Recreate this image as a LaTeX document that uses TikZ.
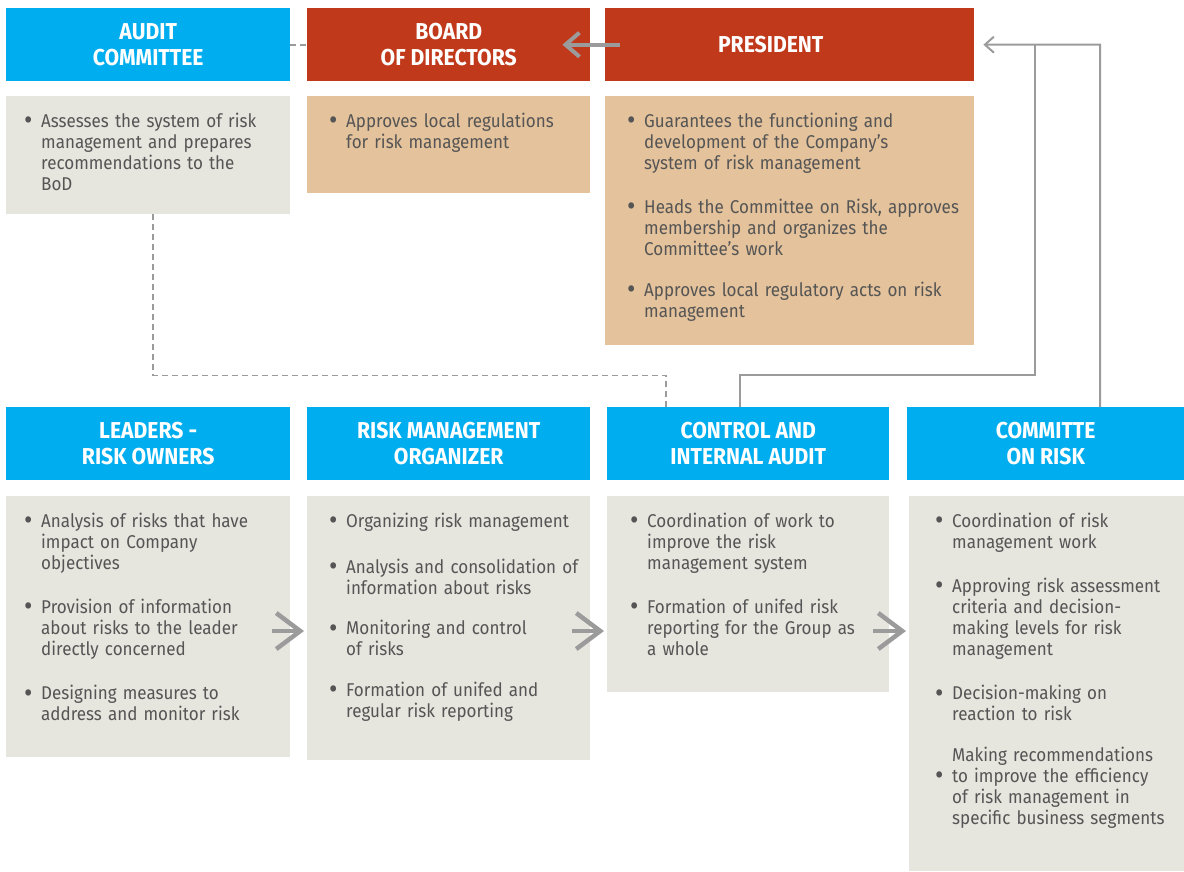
\documentclass[tikz,border=0pt]{standalone}
\usepackage{fontspec}
\setmainfont{Fira Sans}[FakeStretch=0.92]
\usetikzlibrary{arrows.meta,calc}
\definecolor{hblue}{HTML}{00AEEF}
\definecolor{hred}{HTML}{C1391B}
\definecolor{ctan}{HTML}{E4C29B}
\definecolor{cgray}{HTML}{E6E5DE}
\definecolor{ctext}{HTML}{555555}
\definecolor{cline}{HTML}{9B9B9B}
\newcommand\bdot{\raisebox{-2.5pt}{\fontsize{28}{21}\selectfont\textbullet}}
\newcommand\bitem[1]{\par\noindent\makebox[17pt][l]{\bdot}\parbox[t]{\dimexpr\linewidth-17pt\relax}{\raggedright #1}\par}
\newcommand\bitemmid[1]{\par\noindent\makebox[17pt][l]{\raisebox{-21pt}{\bdot}}\parbox[t]{\dimexpr\linewidth-17pt\relax}{\raggedright #1}\par}
\newcommand\gap{\vskip 25pt}
\tikzset{
  x=1pt, y=-1pt,
  hdr/.style={anchor=north west, inner sep=0pt, minimum height=73pt, align=center,
     text=white, font=\fontsize{23}{26}\selectfont\bfseries},
  bluehdr/.style={hdr, fill=hblue},
  redhdr/.style={hdr, fill=hred},
  bodybox/.style={anchor=north west, inner sep=0pt},
  graybox/.style={bodybox, fill=cgray},
  tanbox/.style={bodybox, fill=ctan},
  bodytext/.style={anchor=base west, inner sep=0pt, text=ctext, align=left,
     font=\fontsize{18.5}{21}\selectfont},
  dashline/.style={draw=cline, line width=1.6pt, dash pattern=on 6pt off 4pt},
  conn/.style={draw=cline, line width=2pt},
  bigarrow/.style={draw=cline, line width=4.5pt, -{Straight Barb[length=24pt, width=36pt]}},
  midarrow/.style={draw=cline, line width=4pt, -{Straight Barb[length=14pt, width=24pt]}},
}
\begin{document}
\begin{tikzpicture}
\useasboundingbox (0,0) rectangle (1184,871);
% top row headers
\node[bluehdr, minimum width=284pt] (ach) at (6,8) {AUDIT\\COMMITTEE};
\node[redhdr, minimum width=283pt] (boh) at (307,8) {BOARD\\OF DIRECTORS};
\node[redhdr, minimum width=369pt] (prh) at (605,8) {\hspace*{-38pt}PRESIDENT};
% top row bodies
\node[graybox, minimum width=284pt, minimum height=118pt] (acb) at (6,96) {};
\node[tanbox, minimum width=283pt, minimum height=97pt] (bob) at (307,96) {};
\node[tanbox, minimum width=369pt, minimum height=249pt] (prb) at (605,96) {};
\node[bodytext, text width=262pt] (act) at (24,106) {%
\bitem{Assesses the system of risk\\management and prepares\\recommendations to the\\BoD}};
\node[bodytext, text width=262pt] (bot) at (329,106) {%
\bitem{Approves local regulations\\for risk management}};
\node[bodytext, text width=345pt] (prt) at (627,106) {%
\bitem{Guarantees the functioning and\\development of the Company’s\\system of risk management}\gap
\bitem{Heads the Committee on Risk, approves\\membership and organizes the\\Committee’s work}\gap
\bitem{Approves local regulatory acts on risk\\management}};
% bottom row headers
\node[bluehdr, minimum width=284pt] (loh) at (6,407) {LEADERS -\\RISK OWNERS};
\node[bluehdr, minimum width=283pt] (rmh) at (307,407) {RISK MANAGEMENT\\ORGANIZER};
\node[bluehdr, minimum width=282pt] (cih) at (607,407) {CONTROL AND\\INTERNAL AUDIT};
\node[bluehdr, minimum width=277pt] (crh) at (907,407) {COMMITTE\\ON RISK};
% bottom row bodies
\node[graybox, minimum width=284pt, minimum height=261pt] (lob) at (6,496) {};
\node[graybox, minimum width=283pt, minimum height=264pt] (rmb) at (307,496) {};
\node[graybox, minimum width=282pt, minimum height=196pt] (cib) at (607,496) {};
\node[graybox, minimum width=275pt, minimum height=375pt] (crb) at (909,496) {};
\node[bodytext, text width=262pt] (lot) at (24,506) {%
\bitem{Analysis of risks that have\\impact on Company\\objectives}\gap
\bitem{Provision of information\\about risks to the leader\\directly concerned}\gap
\bitem{Designing measures to\\address and monitor risk}};
\node[bodytext, text width=262pt] (rmt) at (329,506) {%
\bitem{Organizing risk management}\gap
\bitem{Analysis and consolidation of\\information about risks}\gap
\bitem{Monitoring and control\\of risks}\gap
\bitem{Formation of unifed and\\regular risk reporting}};
\node[bodytext, text width=262pt] (cit) at (630,506) {%
\bitem{Coordination of work to\\improve the risk\\management system}\gap
\bitem{Formation of unifed risk\\reporting for the Group as\\a whole}};
\node[bodytext, text width=262pt] (crt) at (935,506) {%
\bitem{Coordination of risk\\management work}\gap
\bitem{Approving risk assessment\\criteria and decision-\\making levels for risk\\management}\gap
\bitem{Decision-making on\\reaction to risk}\gap
\bitemmid{Making recommendations\\to improve the efficiency\\of risk management in\\specific business segments}};
% connectors
\draw[dashline] (ach.east) -- (boh.west);
\draw[midarrow] ([xshift=15pt]prh.west) -- ([xshift=-28pt]boh.east);
\draw[dashline] ([xshift=5pt]acb.south) -- ++(0,161) -| ([xshift=-82pt]cih.north);
\coordinate (k1) at (1035,44.5);
\coordinate (k2) at (1100,44.5);
\coordinate (pin) at ($(prh.east)+(9,0)$);
\draw[conn] ([xshift=-8pt]cih.north) -- ++(0,-32) -| (k1);
\draw[conn, -{Straight Barb[length=9pt, width=16pt]}] (crh.north -| k2) -- (k2) -- (pin);
\draw[bigarrow] ($(lob.north east)+(-18,135)$) -- ($(rmb.north west)+(-3,135)$);
\draw[bigarrow] ($(rmb.north east)+(-18,135)$) -- ($(cib.north west)+(-3,135)$);
\draw[bigarrow] ($(cib.north east)+(-16,135)$) -- ($(crb.north west)+(-3,135)$);
\end{tikzpicture}
\end{document}
